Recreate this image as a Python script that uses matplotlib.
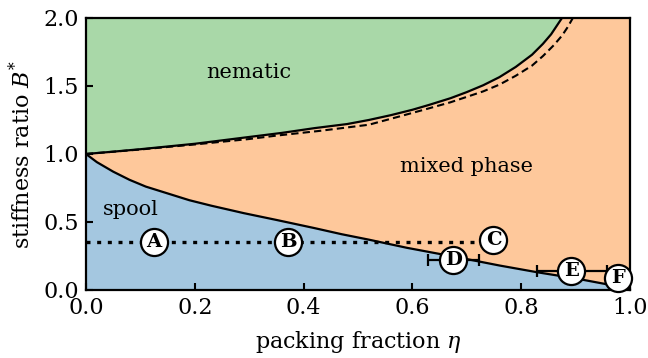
import matplotlib
matplotlib.use("Agg")
import matplotlib.pyplot as plt

plt.rcParams['font.family'] = ['DejaVu Serif']
plt.rcParams['mathtext.fontset'] = 'dejavuserif'

# nematic / mixed boundary (solid)
upper_eta = [0.0, 0.05, 0.10, 0.15, 0.20, 0.25, 0.30, 0.36, 0.42, 0.48, 0.52, 0.56, 0.60, 0.63,
             0.67, 0.70, 0.73, 0.76, 0.79, 0.82, 0.84, 0.855, 0.865, 0.875]
upper_B = [1.0, 1.017, 1.035, 1.055, 1.075, 1.10, 1.125, 1.155, 1.19, 1.22, 1.25, 1.285, 1.325, 1.36,
           1.41, 1.455, 1.505, 1.565, 1.64, 1.73, 1.81, 1.88, 1.94, 2.0]
# dashed boundary
dashed_eta = [0.0, 0.10, 0.20, 0.30, 0.35, 0.43, 0.52, 0.58, 0.63, 0.67, 0.70, 0.73, 0.76, 0.79,
              0.82, 0.84, 0.86, 0.875, 0.885, 0.895]
dashed_B = [1.0, 1.033, 1.07, 1.11, 1.135, 1.17, 1.215, 1.28, 1.335, 1.38, 1.42, 1.46, 1.51, 1.575,
            1.65, 1.72, 1.80, 1.87, 1.93, 2.0]
# spool / mixed boundary
lower_eta = [0.0, 0.02, 0.05, 0.08, 0.11, 0.15, 0.19, 0.23, 0.29, 0.35, 0.42, 0.47, 0.52, 0.59,
             0.65, 0.69, 0.76, 0.83, 0.90, 0.96, 1.0]
lower_B = [1.0, 0.94, 0.87, 0.81, 0.76, 0.71, 0.66, 0.62, 0.565, 0.515, 0.455, 0.41, 0.37, 0.31,
           0.265, 0.235, 0.18, 0.13, 0.085, 0.04, 0.0]

# dotted path A -> C
path_eta = [0.0, 0.745]
path_B = [0.355, 0.355]

# labelled states
point_labels = ['A', 'B', 'C', 'D', 'E', 'F']
point_eta = [0.125, 0.372, 0.749, 0.675, 0.892, 0.978]
point_B = [0.355, 0.355, 0.37, 0.22, 0.14, 0.09]
point_err_lo = [0.0, 0.0, 0.0, 0.046, 0.063, 0.0]
point_err_hi = [0.0, 0.0, 0.0, 0.048, 0.066, 0.0]

x_ticks = [0.0, 0.2, 0.4, 0.6, 0.8, 1.0]
y_ticks = [0.0, 0.5, 1.0, 1.5, 2.0]

green = '#a9d8a8'
orange = '#fec89b'
blue = '#a4c7e0'

FS = 15
TFS = 16

fig = plt.figure(figsize=(6.48, 3.58), dpi=100)
ax = fig.add_axes([0.1327, 0.19, 0.8395, 0.7598])
ax.set_facecolor(orange)

ax.fill_between(upper_eta, upper_B, 2.0, color=green, lw=0, zorder=1)
ax.fill_between(lower_eta, 0.0, lower_B, color=blue, lw=0, zorder=1)

ax.plot(upper_eta, upper_B, color='black', lw=1.6, zorder=3)
ax.plot(dashed_eta, dashed_B, color='black', lw=1.5, dashes=(3.5, 2.0), zorder=3)
ax.plot(lower_eta, lower_B, color='black', lw=1.6, zorder=3)
ax.plot(path_eta, path_B, color='black', lw=2.4, linestyle=(0, (1.2, 2.0)),
        dash_capstyle='butt', zorder=3)

for lab, x, y, lo, hi in zip(point_labels, point_eta, point_B, point_err_lo, point_err_hi):
    if lo > 0 or hi > 0:
        ax.errorbar([x], [y], xerr=[[lo], [hi]], fmt='none', ecolor='black',
                    elinewidth=1.6, capsize=4.5, capthick=1.6, zorder=4)
    ax.plot([x], [y], marker='o', ms=19.5, mfc='white', mec='black', mew=1.6,
            zorder=8, clip_on=False)
    ax.text(x, y, lab, ha='center', va='center', fontsize=14, fontweight='bold',
            zorder=9)

ax.text(0.30, 1.60, 'nematic', ha='center', va='center', fontsize=FS)
ax.text(0.70, 0.91, 'mixed phase', ha='center', va='center', fontsize=FS)
ax.text(0.083, 0.59, 'spool', ha='center', va='center', fontsize=FS)

ax.set_xlim(0, 1)
ax.set_ylim(0, 2)
ax.set_xticks(x_ticks)
ax.set_yticks(y_ticks)
ax.set_xticklabels([f'{v:.1f}' for v in x_ticks])
ax.set_yticklabels([f'{v:.1f}' for v in y_ticks])
ax.tick_params(direction='in', length=5, width=1.5, labelsize=TFS, top=False, right=False, pad=5)
for s in ax.spines.values():
    s.set_linewidth(1.6)
    s.set_zorder(7)

ax.set_xlabel(r'packing fraction $\eta$', fontsize=TFS, labelpad=7)
ax.set_ylabel(r'stiffness ratio $B^{*}$', fontsize=TFS, labelpad=6)

fig.savefig('out.png', dpi=100)
